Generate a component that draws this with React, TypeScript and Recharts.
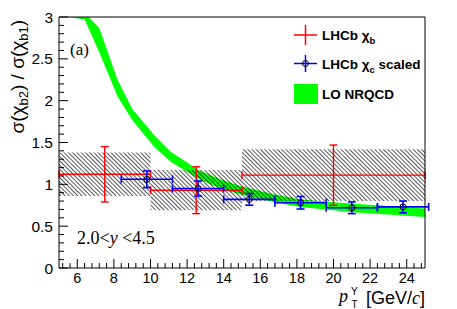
import React from 'react';
import {
  ComposedChart,
  Area,
  Scatter,
  ErrorBar,
  XAxis,
  YAxis,
  ReferenceLine,
} from 'recharts';

// LO NRQCD band (pT, lower edge, upper edge)
const bandX = [5.5, 6.4, 7.2, 8.2, 9.0, 10.2, 11.1, 12.0, 12.6, 13.8, 14.9, 16.7, 18.2, 20.9, 25];
const bandLow = [3.0, 2.97, 2.58, 2.05, 1.77, 1.45, 1.27, 1.15, 1.07, 0.95, 0.88, 0.79, 0.73, 0.67, 0.61];
const bandHigh = [3.2, 3.05, 2.87, 2.25, 1.9, 1.59, 1.39, 1.26, 1.17, 1.06, 0.98, 0.88, 0.82, 0.77, 0.71];

// LHCb chi_b
const chibX = [7.5, 12.5, 20];
const chibY = [1.12, 0.93, 1.11];
const chibXErr = [2.5, 2.5, 5];
const chibStat = [0.33, 0.28, 0.36];
const chibSyst = [0.26, 0.24, 0.31];

// LHCb chi_c scaled
const chicX = [9.8, 12.6, 15.4, 18.2, 21.0, 23.8];
const chicY = [1.06, 0.95, 0.82, 0.78, 0.72, 0.73];
const chicXErr = [1.4, 1.4, 1.4, 1.4, 1.4, 1.4];
const chicYErr = [0.1, 0.09, 0.07, 0.075, 0.07, 0.07];

const xMajorLabels = [6, 8, 10, 12, 14, 16, 18, 20, 22, 24];
const yMajorLabels = [0, 0.5, 1, 1.5, 2, 2.5, 3];

const bandData = bandX.map((x, i) => ({ x, range: [bandLow[i], bandHigh[i]] }));
const chibData = chibX.map((x, i) => ({ x, y: chibY[i], ex: chibXErr[i], ey: chibStat[i] }));
const chicData = chicX.map((x, i) => ({ x, y: chicY[i], ex: chicXErr[i], ey: chicYErr[i] }));
// systematic boxes as two-point ranged areas
const systBoxes = chibX.map((x, i) => [
  { x: x - chibXErr[i], range: [chibY[i] - chibSyst[i], chibY[i] + chibSyst[i]] },
  { x: x + chibXErr[i], range: [chibY[i] - chibSyst[i], chibY[i] + chibSyst[i]] },
]);

const xTicks: number[] = [];
for (let k = 0; k <= 49; k++) xTicks.push(Math.round((5.2 + k * 0.4) * 10) / 10);
const yTicks: number[] = [];
for (let k = 0; k <= 30; k++) yTicks.push(k / 10);

const SANS = "'Liberation Sans', Arial, Helvetica, sans-serif";
const SERIF = "'Liberation Serif', 'Times New Roman', serif";

const XTick = (props: any) => {
  const { x, y, payload } = props;
  const v = payload.value;
  const major = xMajorLabels.some((m) => Math.abs(m - v) < 1e-6);
  return (
    <g>
      <line x1={x} x2={x} y1={y} y2={y - (major ? 9 : 5)} stroke="#000" strokeWidth={1} />
      {major && (
        <text x={x} y={y + 15} textAnchor="middle" fontFamily={SANS} fontSize={14.5} fill="#000">
          {v}
        </text>
      )}
    </g>
  );
};

const YTick = (props: any) => {
  const { x, y, payload } = props;
  const v = payload.value;
  const major = yMajorLabels.some((m) => Math.abs(m - v) < 1e-6);
  return (
    <g>
      <line x1={x} x2={x + (major ? 9 : 5)} y1={y} y2={y} stroke="#000" strokeWidth={1} />
      {major && (
        <text x={x - 6} y={y + 5.5} textAnchor="end" fontFamily={SANS} fontSize={15.5} fill="#000">
          {v}
        </text>
      )}
    </g>
  );
};

const NoMarker = () => <g />;
const OpenCircle = (props: any) => (
  <circle cx={props.cx} cy={props.cy} r={3} fill="none" stroke="#000" strokeWidth={1} />
);

export default function App() {
  return (
    <div style={{ position: 'absolute', left: 0, top: 0, width: 457, height: 309, background: '#fff' }}>
      <ComposedChart
        width={457}
        height={309}
        margin={{ top: 17, right: 32, bottom: 0, left: 0 }}
      >
        <defs>
          <pattern id="hatch" width="3" height="3" patternUnits="userSpaceOnUse" patternTransform="rotate(-45)">
            <line x1="0" y1="0" x2="0" y2="3" stroke="#000" strokeWidth="1.3" />
          </pattern>
        </defs>
        <XAxis
          dataKey="x"
          type="number"
          domain={[5, 25]}
          allowDataOverflow
          ticks={xTicks}
          interval={0}
          tickSize={0}
          tickMargin={0}
          tickLine={false}
          tick={<XTick />}
          height={41}
          axisLine={{ stroke: '#000' }}
        />
        <YAxis
          type="number"
          domain={[0, 3]}
          allowDataOverflow
          ticks={yTicks}
          interval={0}
          tickSize={0}
          tickMargin={0}
          tickLine={false}
          tick={<YTick />}
          width={59}
          axisLine={{ stroke: '#000' }}
        />
        <Area
          data={bandData}
          dataKey="range"
          type="linear"
          fill="#00ff00"
          fillOpacity={1}
          stroke="none"
          isAnimationActive={false}
        />
        {systBoxes.map((box, i) => (
          <Area
            key={`syst${i}`}
            data={box}
            dataKey="range"
            type="linear"
            fill="url(#hatch)"
            fillOpacity={1}
            stroke="none"
            isAnimationActive={false}
          />
        ))}
        <Scatter data={chibData} dataKey="y" shape={<NoMarker />} isAnimationActive={false}>
          <ErrorBar dataKey="ex" direction="x" width={4} stroke="#ff0000" strokeWidth={1.4} isAnimationActive={false} />
          <ErrorBar dataKey="ey" direction="y" width={4} stroke="#ff0000" strokeWidth={1.4} isAnimationActive={false} />
        </Scatter>
        <Scatter data={chicData} dataKey="y" shape={<OpenCircle />} isAnimationActive={false}>
          <ErrorBar dataKey="ex" direction="x" width={4} stroke="#0000ff" strokeWidth={1.6} isAnimationActive={false} />
          <ErrorBar dataKey="ey" direction="y" width={4} stroke="#0000ff" strokeWidth={1.6} isAnimationActive={false} />
        </Scatter>
        <ReferenceLine y={3} stroke="#000" strokeWidth={1} />
        <ReferenceLine x={25} stroke="#000" strokeWidth={1} />
      </ComposedChart>
      <svg
        width={457}
        height={309}
        style={{ position: 'absolute', left: 0, top: 0, pointerEvents: 'none' }}
      >
        {/* Legend */}
        <line x1={294} x2={317} y1={35} y2={35} stroke="#ff0000" strokeWidth={1.5} />
        <line x1={305.5} x2={305.5} y1={25} y2={45} stroke="#ff0000" strokeWidth={1.5} />
        <text x={322} y={40} fontFamily={SANS} fontSize={13.5} fontWeight="bold" fill="#000">
          LHCb χ<tspan dy={4} fontSize={9.5}>b</tspan>
        </text>
        <line x1={294} x2={317} y1={63.5} y2={63.5} stroke="#0000ff" strokeWidth={1.5} />
        <line x1={305.5} x2={305.5} y1={55} y2={72} stroke="#0000ff" strokeWidth={1.5} />
        <circle cx={305.5} cy={63.5} r={3} fill="none" stroke="#000" strokeWidth={1} />
        <text x={322} y={68.5} fontFamily={SANS} fontSize={13.5} fontWeight="bold" fill="#000">
          LHCb χ<tspan dy={4} fontSize={9.5}>c</tspan>
          <tspan dy={-4}> scaled</tspan>
        </text>
        <rect x={294} y={84} width={24} height={20} fill="#00ff00" />
        <text x={322} y={99} fontFamily={SANS} fontSize={13.5} fontWeight="bold" fill="#000">
          LO NRQCD
        </text>

        {/* Annotations */}
        <text x={70} y={55} fontFamily={SERIF} fontSize={17} fill="#000">(a)</text>
        <text x={77} y={244} fontFamily={SERIF} fontSize={18} fill="#000">
          2.0&lt;<tspan fontStyle="italic">y</tspan> &lt;4.5
        </text>

        {/* Y-axis title */}
        <text
          transform="translate(24,20) rotate(-90)"
          textAnchor="end"
          fontFamily={SANS}
          fontSize={19}
          fill="#000"
        >
          σ(χ<tspan dy={4} fontSize={13}>b2</tspan>
          <tspan dy={-4}>) / σ(χ</tspan>
          <tspan dy={4} fontSize={13}>b1</tspan>
          <tspan dy={-4}>)</tspan>
        </text>

        {/* X-axis title */}
        <text x={339} y={302} fontFamily={SERIF} fontStyle="italic" fontSize={18} fill="#000">p</text>
        <text x={351} y={295} fontFamily={SANS} fontSize={10} fill="#000">Υ</text>
        <text x={351.5} y={308} fontFamily={SANS} fontSize={10} fill="#000">T</text>
        <text x={425} y={304} textAnchor="end" fontFamily={SANS} fontSize={18} fill="#000">
          [GeV/<tspan fontFamily={SERIF} fontStyle="italic">c</tspan>]
        </text>
      </svg>
    </div>
  );
}
